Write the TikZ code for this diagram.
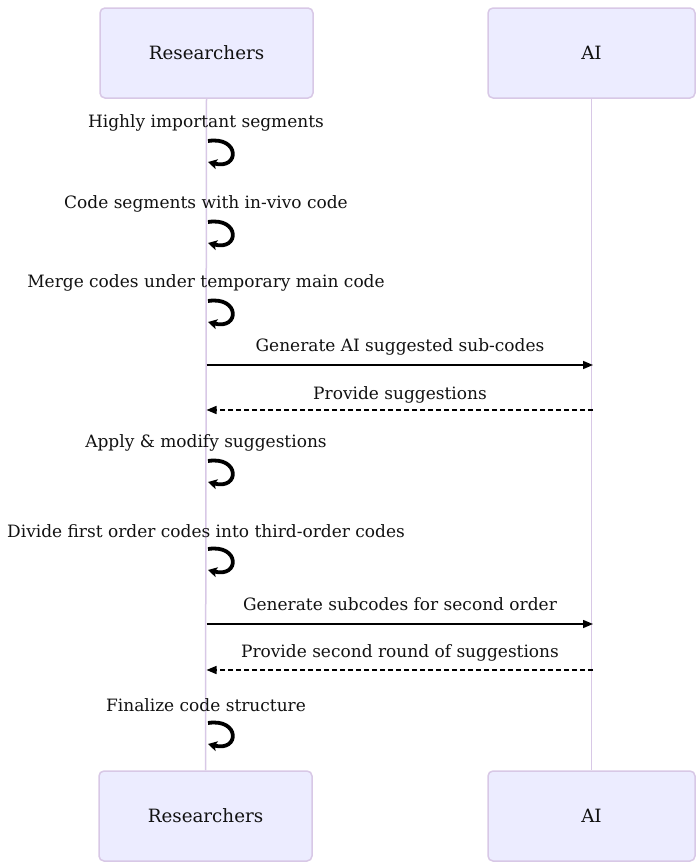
\documentclass[tikz,border=0pt]{standalone}
\usepackage{fontspec}
\setmainfont{DejaVu Serif}
\usetikzlibrary{arrows.meta}
\definecolor{actfill}{HTML}{ECECFF}
\definecolor{actline}{HTML}{D8C8E6}
\definecolor{txt}{HTML}{111111}
\begin{document}
\begin{tikzpicture}[x=1pt,y=-1pt,
  actor/.style={draw=actline,fill=actfill,line width=1.5pt,rounded corners=5pt,
    minimum height=90pt,inner sep=0pt,text=txt,font=\fontsize{18.3}{22}\selectfont},
  lifeline/.style={draw=actline,line width=1.5pt},
  msgtext/.style={text=txt,font=\fontsize{17}{20}\selectfont,inner sep=0pt,anchor=center},
  msg/.style={line width=1.5pt,-{Triangle[length=10pt,width=8pt]}},
  reply/.style={line width=1.5pt,dash pattern=on 5pt off 3pt,-{Triangle[length=10pt,width=8pt]}},
  selfloop/.style={line width=3.8pt,-{Stealth[length=9pt,width=10pt,inset=2pt]}}
]
\useasboundingbox (0,0) rectangle (696,862);
% actors
\node[actor,minimum width=213pt] (rtop) at (206.5,53) {Researchers};
\node[actor,minimum width=207pt] (atop) at (591.5,53) {AI};
\node[actor,minimum width=213pt] (rbot) at (205.5,816) {Researchers};
\node[actor,minimum width=207pt] (abot) at (591.5,816) {AI};
% lifelines
\draw[lifeline] (rtop.south) -- (rbot.north);
\draw[lifeline] (atop.south) -- (abot.north);
% self messages
\newcommand{\selfmsg}[3]{%
  \node[msgtext] (#1) at (206,#2) {#3};
  \coordinate (#1s) at (208,#2+18);
  \coordinate (#1e) at (208,#2+39);
  \draw[selfloop] (#1s) .. controls ++(32,-5) and ++(32,8) .. (#1e);
}
\selfmsg{t1}{123}{Highly important segments}
\selfmsg{t2}{204}{Code segments with in-vivo code}
\selfmsg{t3}{283}{Merge codes under temporary main code}
% cross messages
\coordinate (r1) at (206.5,365); \coordinate (a1) at (593,365);
\node[msgtext] (m1) at (400,347) {Generate AI suggested sub-codes};
\draw[msg] (r1) -- (a1);
\coordinate (r2) at (206.5,410); \coordinate (a2) at (593,410);
\node[msgtext] (m2) at (400,395) {Provide suggestions};
\draw[reply] (a2) -- (r2);
\selfmsg{t4}{443}{Apply \& modify suggestions}
\selfmsg{t5}{531}{Divide first order codes into third-order codes}
\coordinate (r3) at (206.5,624); \coordinate (a3) at (593,624);
\node[msgtext] (m3) at (400,604) {Generate subcodes for second order};
\draw[msg] (r3) -- (a3);
\coordinate (r4) at (206.5,670); \coordinate (a4) at (593,670);
\node[msgtext] (m4) at (400,653) {Provide second round of suggestions};
\draw[reply] (a4) -- (r4);
\selfmsg{t6}{705}{Finalize code structure}
\end{tikzpicture}
\end{document}
